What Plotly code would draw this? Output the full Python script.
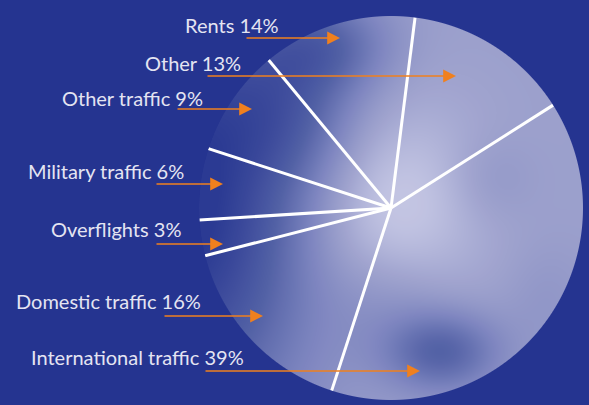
import base64
import struct
import zlib

import numpy as np
import plotly.graph_objects as go

# Revenue shares, listed clockwise from the first separator
categories = ["Rents", "International traffic", "Domestic traffic", "Overflights",
              "Military traffic", "Other traffic", "Other"]
shares = [14, 39, 16, 3, 6, 9, 13]

# Label order (top to bottom) as printed on the left-hand side
label_order = ["Rents", "Other", "Other traffic", "Military traffic", "Overflights",
               "Domestic traffic", "International traffic"]

W, H = 589, 405
BG = "#253490"
CX, CY, RAD = 391, 208, 192      # pie centre and radius in pixels
START_ANGLE = 7.2                # first separator, degrees clockwise from 12 o'clock


def cloud_texture(size):
    """Soft sky-like shading for the disc, returned as an RGBA array."""
    px = np.arange(size) + CX - RAD + 0.5
    py = np.arange(size) + CY - RAD + 0.5
    X, Y = np.meshgrid(px, py)

    def blob(x0, y0, sx, sy):
        return np.exp(-((X - x0) ** 2) / (2 * sx ** 2) - ((Y - y0) ** 2) / (2 * sy ** 2))

    L = 0.78
    L = L + 0.28 * blob(385, 208, 65, 75)
    L = L - 0.85 * blob(175, 205, 95, 150)
    L = L - 0.25 * blob(290, 110, 50, 50)
    L = L - 0.30 * blob(325, 45, 45, 32)
    L = L - 0.42 * blob(442, 352, 40, 28)
    L = L - 0.12 * blob(390, 300, 45, 40)
    L = L - 0.08 * blob(490, 180, 30, 30)
    L = L - 0.06 * blob(545, 300, 30, 40)
    L = np.clip(L, 0, 1)

    stops = np.array([0.0, 0.35, 0.6, 0.8, 1.0])
    cols = np.array([(37, 52, 144), (78, 93, 164), (122, 130, 190),
                     (156, 160, 205), (196, 198, 228)], dtype=float)
    rgb = np.stack([np.interp(L, stops, cols[:, k]) for k in range(3)], axis=-1)

    d = np.hypot(X - CX, Y - CY)
    alpha = np.clip(RAD - d + 0.5, 0, 1)
    rgba = np.concatenate([rgb, (alpha * 255)[..., None]], axis=-1)
    return np.clip(rgba, 0, 255).astype(np.uint8)


def to_png(rgba):
    h, w, _ = rgba.shape
    raw = b"".join(b"\x00" + rgba[r].tobytes() for r in range(h))

    def chunk(tag, data):
        c = struct.pack(">I", len(data)) + tag + data
        return c + struct.pack(">I", zlib.crc32(tag + data) & 0xFFFFFFFF)

    return (b"\x89PNG\r\n\x1a\n"
            + chunk(b"IHDR", struct.pack(">IIBBBBB", w, h, 8, 6, 0, 0, 0))
            + chunk(b"IDAT", zlib.compress(raw, 9))
            + chunk(b"IEND", b""))


texture = "data:image/png;base64," + base64.b64encode(to_png(cloud_texture(2 * RAD))).decode()

# Slice geometry from the shares
total = float(sum(shares))
spans = [360.0 * v / total for v in shares]
edges = START_ANGLE + np.concatenate([[0.0], np.cumsum(spans)])
mids = (edges[:-1] + edges[1:]) / 2

fig = go.Figure()

fig.add_trace(go.Barpolar(
    r=[1] * len(shares), theta=mids, width=spans,
    marker=dict(color="rgba(255,255,255,0.03)", line=dict(width=0)),
    customdata=shares, text=categories,
    hovertemplate="%{text}: %{customdata}%<extra></extra>",
    showlegend=False,
))

sep_r, sep_t = [], []
for e in edges[:-1]:
    sep_r += [0, 1, None]
    sep_t += [e, e, None]
fig.add_trace(go.Scatterpolar(
    r=sep_r, theta=sep_t, mode="lines",
    line=dict(color="white", width=3), hoverinfo="skip", showlegend=False,
))

# Label text placement (right edge x, centre y) and arrow (tail x, head x, y)
label_pos = {
    "Rents": (281, 25, 245, 340, 38),
    "Other": (243, 63, 206, 456, 76),
    "Other traffic": (205, 98, 176, 252, 109),
    "Military traffic": (186, 171, 155, 223, 184),
    "Overflights": (183, 229, 155, 223, 244),
    "Domestic traffic": (203, 301, 163, 263, 316),
    "International traffic": (246, 357, 204, 420, 371),
}
value_of = dict(zip(categories, shares))

annotations = []
for name in label_order:
    tx, ty, ax0, ax1, ay = label_pos[name]
    annotations.append(dict(
        text=f"{name} {value_of[name]}%", xref="paper", yref="paper",
        x=tx / W, y=1 - ty / H, xanchor="right", yanchor="middle",
        showarrow=False, font=dict(family="Lato", size=20, color="#e4e4f2"),
    ))
    annotations.append(dict(
        text="", xref="paper", yref="paper", x=ax1 / W, y=1 - ay / H,
        ax=ax0 - ax1, ay=0, axref="pixel", ayref="pixel",
        showarrow=True, arrowhead=2, arrowsize=1.6, arrowwidth=1.6,
        arrowcolor="#f0801e", standoff=0,
    ))

fig.update_layout(
    width=W, height=H, margin=dict(l=0, r=0, t=0, b=0),
    paper_bgcolor=BG, plot_bgcolor=BG,
    polar=dict(
        domain=dict(x=[(CX - RAD) / W, (CX + RAD) / W],
                    y=[(H - CY - RAD) / H, (H - CY + RAD) / H]),
        bgcolor="rgba(0,0,0,0)",
        angularaxis=dict(rotation=90, direction="clockwise", visible=False),
        radialaxis=dict(range=[0, 1], visible=False),
    ),
    images=[dict(
        source=texture, xref="paper", yref="paper",
        x=(CX - RAD) / W, y=1 - (CY - RAD) / H,
        sizex=2 * RAD / W, sizey=2 * RAD / H,
        xanchor="left", yanchor="top", sizing="stretch", layer="below",
    )],
    annotations=annotations,
)

fig.write_html("out.html")
